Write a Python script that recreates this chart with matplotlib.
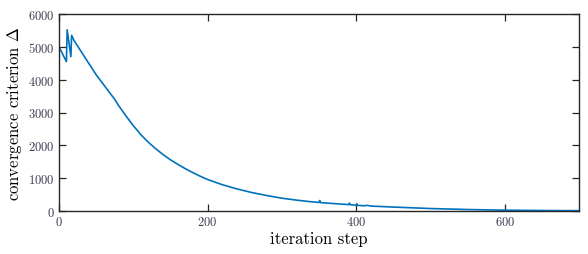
import matplotlib
matplotlib.use("Agg")
import matplotlib.pyplot as plt

# values
iteration = [0, 10, 11, 16, 17, 20, 30, 40, 50, 60, 70, 75, 80, 90, 100,
             110, 120, 130, 140, 150, 160, 170, 180, 190, 200, 220, 240,
             260, 280, 300, 320, 340, 350, 351, 352, 380, 390, 391, 392,
             400, 401, 402, 410, 415, 420, 450, 500, 550, 600, 650, 700]
delta = [5000, 4550, 5520, 4700, 5350, 5200, 4850, 4500, 4150, 3850, 3550,
         3400, 3220, 2900, 2600, 2330, 2100, 1900, 1720, 1560, 1420, 1290,
         1170, 1060, 960, 800, 670, 560, 470, 390, 330, 280, 260, 320, 255,
         210, 195, 240, 192, 175, 220, 172, 160, 170, 150, 120, 75, 45, 25,
         15, 10]
x_ticks = [0, 200, 400, 600]
y_ticks = [0, 1000, 2000, 3000, 4000, 5000, 6000]

plt.rcParams["font.family"] = ["cmr10", "DejaVu Serif"]
plt.rcParams["mathtext.fontset"] = "cm"
plt.rcParams["axes.formatter.use_mathtext"] = True
plt.rcParams["axes.unicode_minus"] = False

figure = plt.figure(figsize=(5.88, 2.55), dpi=100)
axes = figure.add_axes([59 / 588, 43 / 255, 520 / 588, 197 / 255])

axes.plot(iteration, delta, color="#0072BD", linewidth=1.2)

axes.set_xlim(0, 700)
axes.set_ylim(0, 6000)
axes.set_xticks(x_ticks)
axes.set_yticks(y_ticks)
axes.tick_params(direction="in", length=5, width=0.9, top=True, right=True,
                 labelsize=9, labelcolor="#3a3a50", color="#262626", pad=3)
for spine in axes.spines.values():
    spine.set_linewidth(1.0)
    spine.set_color("#262626")

axes.set_xlabel("iteration step", fontsize=12, labelpad=2)
axes.set_ylabel(r"convergence criterion $\Delta$", fontsize=12, labelpad=3)

figure.savefig("out.png", dpi=100)
